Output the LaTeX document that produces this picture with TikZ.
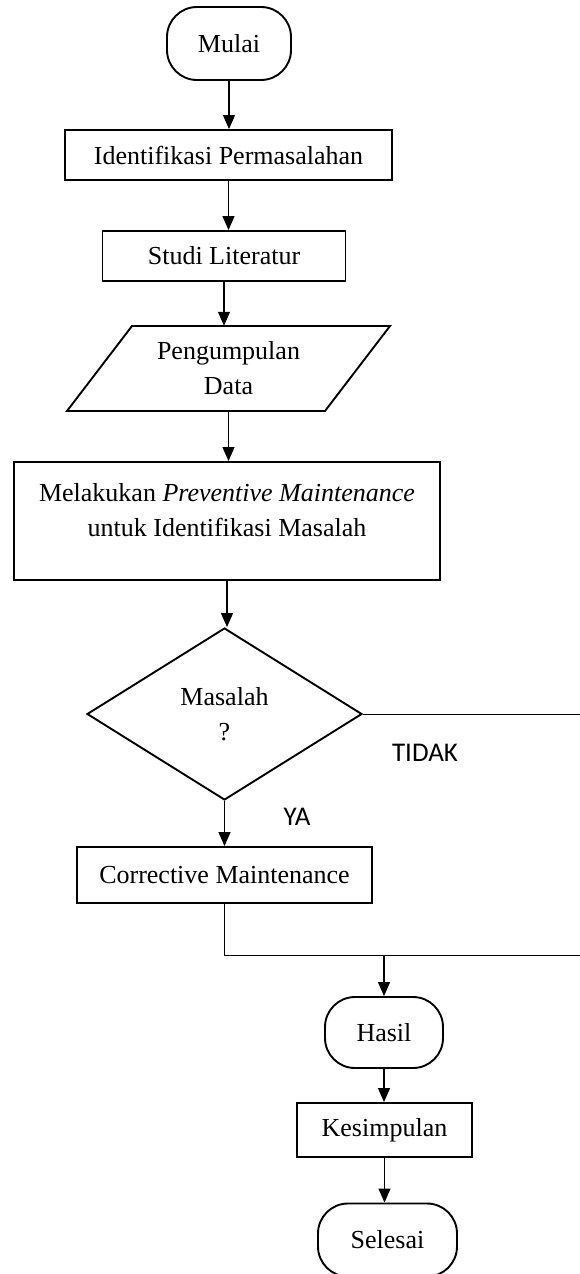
\documentclass[tikz,border=0pt]{standalone}
\usepackage{fontspec}
\setmainfont{Liberation Serif}
\newfontfamily\labelfont{Carlito}
\usetikzlibrary{arrows.meta,shapes.geometric}

\begin{document}
\begin{tikzpicture}[x=1pt,y=-1pt,>={Triangle[length=14pt,width=12pt]},
  every node/.style={font=\fontsize{26}{35}\selectfont,align=center},
  box/.style={draw,line width=1.9pt,inner sep=0pt},
  term/.style={box,rounded corners=30pt},
  conn/.style={->,line width=1.2pt},
  yesno/.style={font=\labelfont\fontsize{27}{30}\selectfont}]
\useasboundingbox (0,0) rectangle (579,1274);
\node[term,minimum width=124pt,minimum height=73pt] (mulai) at (229,43.5) {Mulai};
\node[box,minimum width=327pt,minimum height=50pt] (ident) at (228.5,155) {Identifikasi Permasalahan};
\node[box,minimum width=243pt,minimum height=50pt] (studi) at (224,256) {Studi Literatur};
\draw[line width=1.9pt] (132,326)--(390,326)--(325,411)--(67,411)--cycle;
\node[inner sep=0pt,minimum height=85pt] (data) at (228.5,368.5) {Pengumpulan\\Data};
\node[box,minimum width=426pt,minimum height=118pt] (pm) at (227,521) {};
\node (pmtext) at (227,510) {Melakukan \textit{Preventive Maintenance}\\untuk Identifikasi Masalah};
\node[box,diamond,minimum width=275pt,minimum height=172pt] (dec) at (224.5,714) {Masalah\\?};
\node[box,minimum width=295pt,minimum height=56pt] (corr) at (224.5,875) {Corrective Maintenance};
\node[term,minimum width=118pt,minimum height=71pt] (hasil) at (384,1032.5) {Hasil};
\node[box,minimum width=175pt,minimum height=54pt] (kesim) at (384.5,1130) {Kesimpulan};
\node[term,minimum width=139pt,minimum height=73pt] (selesai) at (387.5,1240) {Selesai};
\node[yesno] (tidak) at (425,753) {TIDAK};
\node[yesno] (ya) at (297,817) {YA};
\coordinate (kanan) at (581,955);
\coordinate (gabung) at (corr.south |- kanan);
\draw[conn] (mulai.south) -- (mulai.south |- ident.north);
\draw[conn] (ident.south) -- (ident.south |- studi.north);
\draw[conn] (studi.south) -- (studi.south |- data.north);
\draw[conn] (data.south) -- (data.south |- pm.north);
\draw[conn] (pm.south) -- (pm.south |- dec.north);
\draw[conn] (dec.south) -- (dec.south |- corr.north);
\draw[line width=0.8pt] (dec.east) -| (kanan) -- (gabung) -- (corr.south);
\draw[conn] (hasil.north |- kanan) -- (hasil.north);
\draw[conn] (hasil.south) -- (hasil.south |- kesim.north);
\draw[conn] (kesim.south) -- (kesim.south |- selesai.north);
\end{tikzpicture}
\end{document}
